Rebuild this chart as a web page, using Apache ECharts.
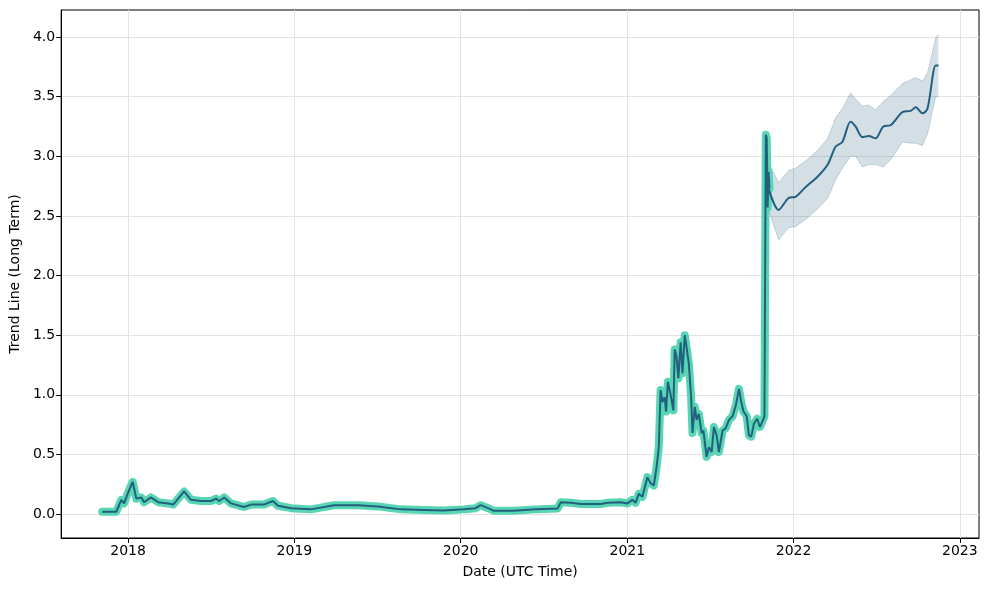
<!DOCTYPE html>
<html>
<head>
<meta charset="utf-8">
<script src="https://cdn.jsdelivr.net/npm/echarts@6/dist/echarts.min.js"></script>
<style>html,body{margin:0;padding:0;background:#fff}#c{width:988px;height:590px}</style>
</head>
<body>
<div id="c"></div>
<script>
// Historical trend line
const histDates = ['2017-11-05','2017-12-06','2017-12-17','2017-12-23','2018-01-03','2018-01-11','2018-01-19','2018-01-30','2018-02-05','2018-02-20','2018-03-08','2018-03-30','2018-04-10','2018-05-04','2018-05-19','2018-06-10','2018-07-02','2018-07-13','2018-07-20','2018-07-31','2018-08-15','2018-09-12','2018-09-28','2018-10-26','2018-11-15','2018-11-26','2018-12-25','2019-02-06','2019-03-29','2019-05-21','2019-07-03','2019-08-23','2019-10-12','2019-11-25','2020-01-08','2020-02-03','2020-02-14','2020-03-01','2020-03-14','2020-04-27','2020-06-14','2020-08-01','2020-08-08','2020-08-30','2020-09-21','2020-11-04','2020-11-19','2020-12-17',
  '2021-01-01','2021-01-12','2021-01-19','2021-01-26','2021-02-03','2021-02-14','2021-02-21','2021-02-28','2021-03-06','2021-03-11','2021-03-15','2021-03-19','2021-03-24','2021-03-27','2021-03-31','2021-04-06','2021-04-12','2021-04-15','2021-04-19','2021-04-23','2021-04-28','2021-05-02','2021-05-07','2021-05-11','2021-05-16','2021-05-21','2021-05-24','2021-05-29','2021-06-02','2021-06-07','2021-06-13','2021-06-17','2021-06-24','2021-06-29','2021-07-05','2021-07-10','2021-07-16','2021-07-21','2021-07-29','2021-08-05','2021-08-12','2021-08-20','2021-08-27','2021-09-03','2021-09-08','2021-09-13','2021-09-20','2021-09-25','2021-09-30','2021-10-06','2021-10-13','2021-10-19','2021-10-26','2021-10-29','2021-11-01','2021-11-03','2021-11-05','2021-11-07','2021-11-09'];
const histValues = [0.02,0.02,0.12,0.09,0.20,0.27,0.13,0.14,0.10,0.14,0.10,0.09,0.08,0.19,0.12,0.11,0.11,0.13,0.11,0.14,0.09,0.06,0.08,0.08,0.11,0.07,0.05,0.04,0.075,0.075,0.065,0.04,0.035,0.03,0.04,0.05,0.075,0.05,0.028,0.028,0.04,0.048,0.10,0.095,0.085,0.085,0.095,0.10,
  0.09,0.12,0.095,0.17,0.145,0.31,0.26,0.24,0.39,0.56,1.04,0.94,0.98,0.86,1.11,1.00,0.87,1.38,1.32,1.14,1.44,1.18,1.50,1.40,1.26,0.98,0.68,0.90,0.79,0.84,0.68,0.70,0.48,0.56,0.52,0.73,0.66,0.52,0.70,0.72,0.79,0.82,0.91,1.05,0.94,0.86,0.82,0.66,0.65,0.76,0.80,0.73,0.79,0.82,3.18,3.15,2.57,2.87,2.73];

// Forecast trend line and confidence band
const fcDates = ['2021-11-07','2021-11-29','2021-12-21','2022-01-05','2022-01-27','2022-02-23','2022-03-17','2022-04-03','2022-04-18','2022-05-06','2022-05-17','2022-06-01','2022-06-15','2022-06-30','2022-07-17','2022-08-02','2022-08-28','2022-09-15','2022-09-26','2022-10-11','2022-10-22','2022-11-09','2022-11-15'];
const fcValues = [2.73,2.55,2.65,2.66,2.74,2.83,2.93,3.08,3.12,3.29,3.25,3.16,3.17,3.15,3.25,3.26,3.37,3.38,3.41,3.36,3.40,3.76,3.76];
const fcUpper = [2.95,2.78,2.88,2.90,2.96,3.05,3.15,3.32,3.40,3.53,3.48,3.42,3.43,3.39,3.46,3.51,3.61,3.64,3.66,3.63,3.70,3.99,4.02];
const fcLower = [2.55,2.30,2.40,2.41,2.47,2.56,2.65,2.80,2.90,3.00,3.00,2.91,2.93,2.93,2.91,2.97,3.12,3.11,3.11,3.09,3.19,3.50,3.50];

const yTicks = [0,0.5,1.0,1.5,2.0,2.5,3.0,3.5,4.0];
const xTickYears = [2018,2019,2020,2021,2022,2023];

const dark = '#22607f';
const glow = '#58d5b2';
const font = 'DejaVu Sans';
const fs = 14;
const ts = d => Date.parse(d + 'T00:00:00Z');
const xTicks = xTickYears.map(y => Date.UTC(y,0,1));

const hist = histDates.map((d,i)=>[ts(d),histValues[i]]);
const fc = fcDates.map((d,i)=>[ts(d),fcValues[i]]);
const band = fcDates.map((d,i)=>[ts(d),fcLower[i],fcUpper[i]]);

function renderBand(params, api){
  if (params.dataIndex !== 0) return null;
  const up = band.map(p => api.coord([p[0], p[2]]));
  const lo = band.map(p => api.coord([p[0], p[1]]));
  const poly = up.concat(lo.slice().reverse());
  return {type:'group', children:[
    {type:'polygon', shape:{points:poly}, style:{fill:'rgba(34,96,127,0.2)', stroke:null}},
    {type:'polyline', shape:{points:up}, style:{fill:null, stroke:'rgba(34,96,127,0.22)', lineWidth:1}},
    {type:'polyline', shape:{points:lo}, style:{fill:null, stroke:'rgba(34,96,127,0.22)', lineWidth:1}}
  ]};
}

const chart = echarts.init(document.getElementById('c'));
chart.setOption({
  animation:false,
  backgroundColor:'#fff',
  grid:{left:61,right:9,top:10,bottom:52,show:true,borderColor:'#000',borderWidth:1,backgroundColor:'transparent'},
  xAxis:{
    type:'value',
    min:Date.UTC(2017,7,7),
    max:Date.UTC(2023,1,12),
    name:'Date (UTC Time)',nameLocation:'middle',nameGap:27,
    nameTextStyle:{fontFamily:font,fontSize:fs,color:'#000'},
    axisLine:{show:true,onZero:false,lineStyle:{color:'#000'}},
    axisTick:{show:true,length:5,lineStyle:{color:'#000'},customValues:xTicks},
    axisLabel:{fontFamily:font,fontSize:fs,color:'#000',margin:6,customValues:xTicks,
      formatter:v=>String(new Date(v).getUTCFullYear())},
    splitLine:{show:true,lineStyle:{color:'#e3e3e3',width:1}}
  },
  yAxis:{
    type:'value',min:-0.2,max:4.226,
    name:'Trend Line (Long Term)',nameLocation:'middle',nameGap:39,
    nameTextStyle:{fontFamily:font,fontSize:fs,color:'#000'},
    axisLine:{show:true,onZero:false,lineStyle:{color:'#000'}},
    axisTick:{show:true,length:5,lineStyle:{color:'#000'},customValues:yTicks},
    axisLabel:{fontFamily:font,fontSize:fs,color:'#000',margin:6,customValues:yTicks,
      formatter:v=>v.toFixed(1)},
    splitLine:{show:true,lineStyle:{color:'#e3e3e3',width:1}}
  },
  series:[
    {type:'custom',renderItem:renderBand,data:band,encode:{x:0,y:[1,2]},z:1,silent:true},
    {type:'line',data:hist,showSymbol:false,z:2,lineStyle:{color:glow,width:8,join:'round',cap:'round'}},
    {type:'line',data:hist,showSymbol:false,z:3,lineStyle:{color:dark,width:2}},
    {type:'line',data:fc,showSymbol:false,smooth:0.3,z:3,lineStyle:{color:dark,width:2}}
  ]
});
</script>
</body>
</html>
